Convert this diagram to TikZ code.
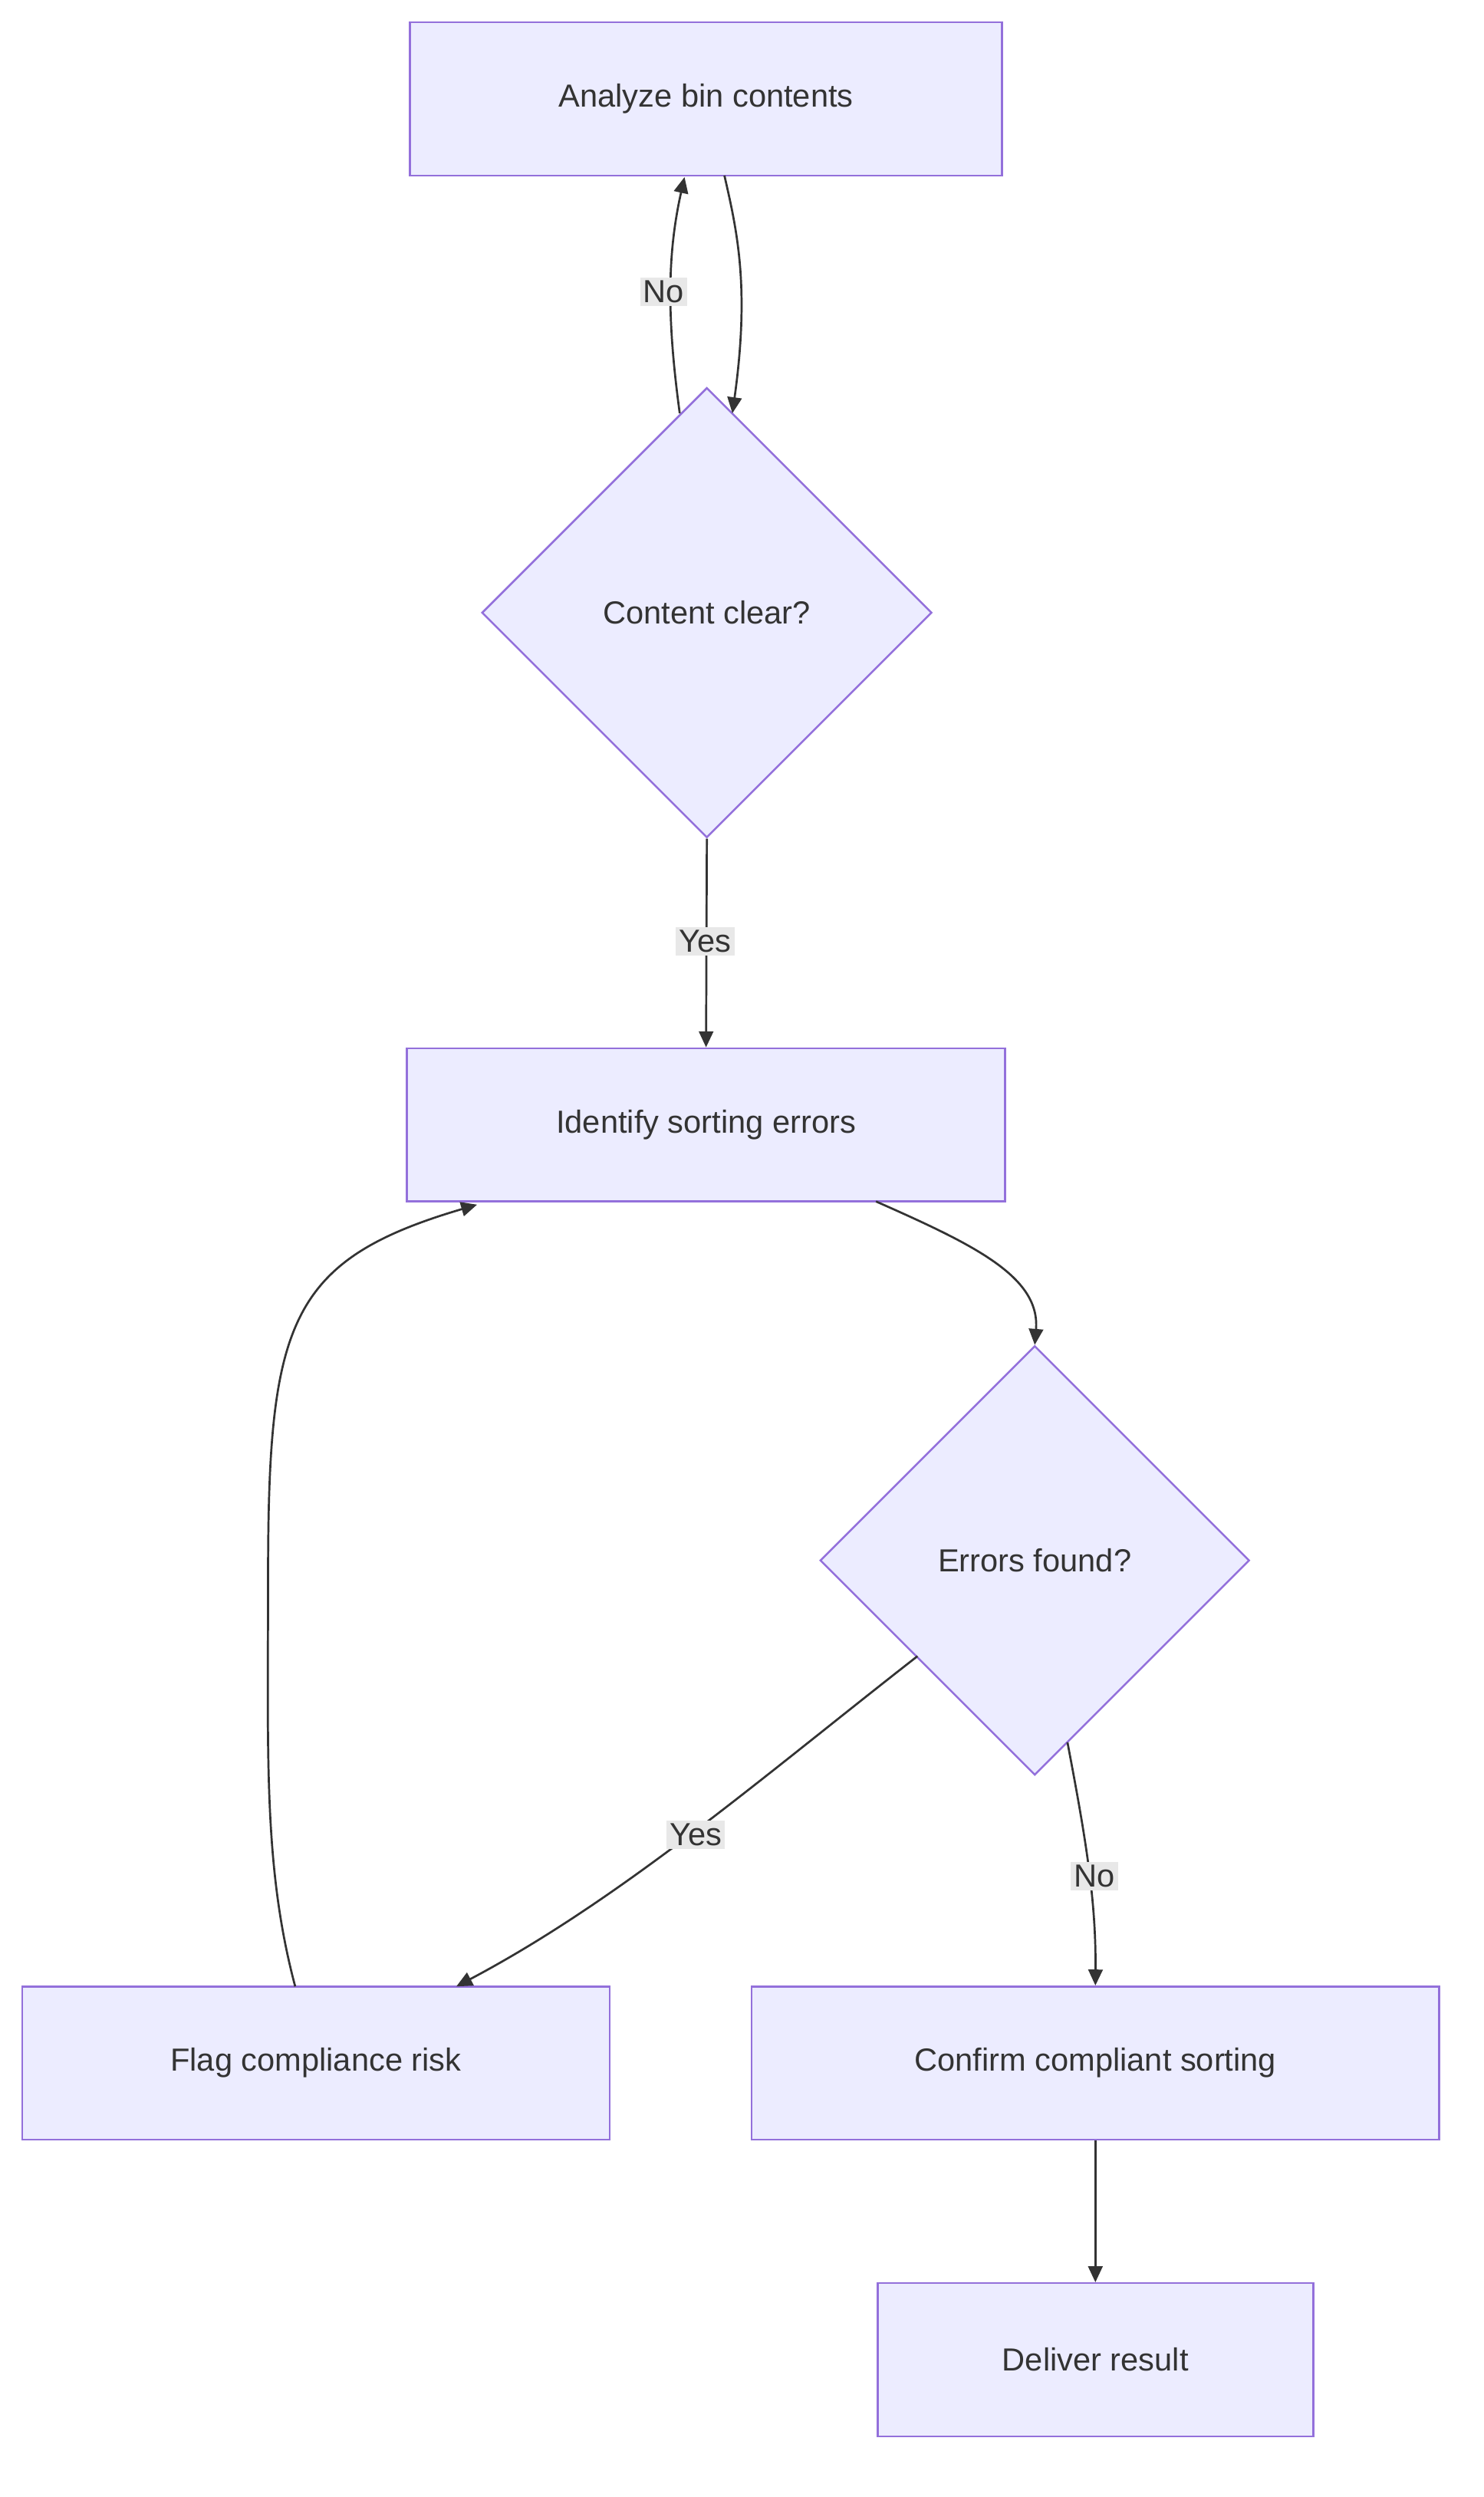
\documentclass[tikz,border=0pt]{standalone}
\usepackage{fontspec}
\setmainfont{Liberation Sans}
\usetikzlibrary{shapes.geometric,arrows.meta}
\definecolor{nfill}{HTML}{ECECFF}
\definecolor{nstroke}{HTML}{9370DB}
\definecolor{txt}{HTML}{333333}
\definecolor{lbl}{HTML}{E8E8E8}
\begin{document}
\begin{tikzpicture}[x=1pt,y=-1pt,
  box/.style={draw=nstroke,fill=nfill,line width=1.2pt,minimum height=96pt,inner sep=0pt,text=txt,font=\fontsize{20}{24}\selectfont},
  dia/.style={draw=nstroke,fill=nfill,line width=1.2pt,diamond,inner sep=0pt,text=txt,font=\fontsize{20}{24}\selectfont},
  edge/.style={draw=txt,line width=1.3pt,-{Triangle[length=10pt,width=9pt]}},
  lab/.style={fill=lbl,text=txt,inner sep=2pt,font=\fontsize{20}{24}\selectfont}]
\useasboundingbox (0,0) rectangle (930,1565);
\node[box,minimum width=371pt] (A) at (442.5,62) {Analyze bin contents};
\node[dia,minimum width=282pt,minimum height=282pt] (B) at (443,384) {Content clear?};
\node[box,minimum width=375pt] (C) at (442.5,705) {Identify sorting errors};
\node[dia,minimum width=269pt,minimum height=269pt] (D) at (648.5,978) {Errors found?};
\node[box,minimum width=368pt] (E) at (198,1293) {Flag compliance risk};
\node[box,minimum width=431pt] (F) at (686.5,1293) {Confirm compliant sorting};
\node[box,minimum width=273pt] (G) at (686.5,1479) {Deliver result};
\coordinate (a1) at (454,110); \coordinate (b1) at (459,259);
\coordinate (b2) at (426,259); \coordinate (a2) at (429,111);
\draw[edge] (a1) .. controls (462,145) and (470,180) .. (b1);
\draw[edge] (b2) .. controls (418,200) and (418,160) .. (a2);
\node[lab] (l1) at (416,183) {No};
\draw[edge] (B.south) -- (C.north);
\node[lab] (l2) at (442,590) {Yes};
\coordinate (c1) at (549,753);
\draw[edge] (c1) .. controls (610,780) and (652,800) .. (D.north);
\coordinate (d1) at (575,1038); \coordinate (e1) at (286,1245);
\draw[edge] (d1) .. controls (480,1112) and (390,1190) .. (e1);
\node[lab] (l3) at (436,1150) {Yes};
\coordinate (d2) at (669,1092);
\draw[edge] (d2) .. controls (680,1150) and (687,1190) .. (F.north);
\node[lab] (l4) at (686,1176) {No};
\coordinate (e2) at (185,1245); \coordinate (c2) at (299,755);
\draw[edge] (e2) .. controls (165,1170) and (168,1100) .. (168,990) .. controls (168,830) and (180,790) .. (c2);
\draw[edge] (F.south) -- (G.north);
\end{tikzpicture}
\end{document}
